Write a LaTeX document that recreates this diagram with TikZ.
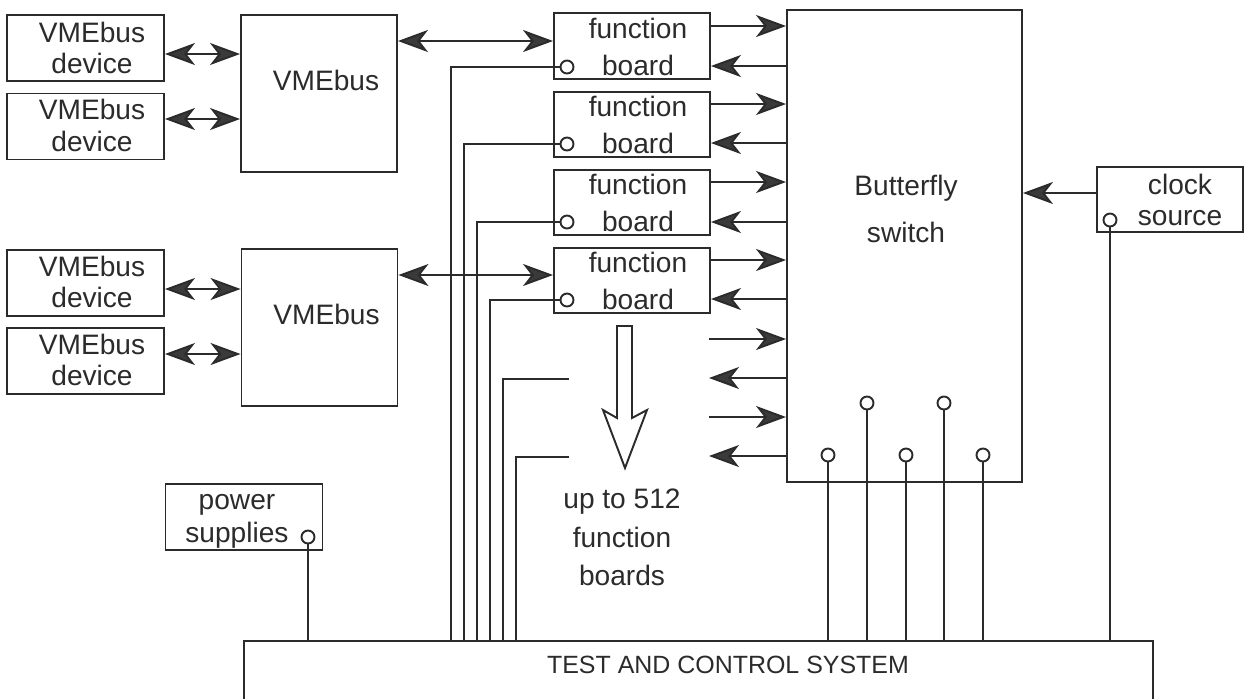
\documentclass[tikz,border=0pt]{standalone}
\usepackage{fontspec}
\setmainfont{Liberation Sans}
\usetikzlibrary{arrows.meta}
\definecolor{ink}{HTML}{2B2B2B}
\definecolor{headfill}{HTML}{3A3A3A}
\tikzset{
  box/.style={draw=ink, line width=1.1pt, rectangle, inner sep=0pt},
  txt/.style={text=ink, align=center, inner sep=0pt},
  port/.style={draw=ink, line width=1.1pt, circle, inner sep=0pt, minimum size=0.26cm},
  wire/.style={draw=ink, line width=1.1pt},
  head/.tip={Stealth[length=0.6cm, width=0.44cm, inset=0.17cm, fill=headfill]},
  arr/.style={wire, -head},
  darr/.style={wire, head-head},
  devbox/.style={box, minimum width=3.14cm, minimum height=1.32cm},
  fbbox/.style={box, minimum width=3.12cm, minimum height=1.31cm},
  busbox/.style={box, minimum width=3.12cm, minimum height=3.14cm},
}
\begin{document}
\begin{tikzpicture}[x=0.02cm,y=-0.02cm]
\useasboundingbox (0,0) rectangle (1249,698);
\clip (0,0) rectangle (1249,698);

% ---- boxes
\node[devbox] (dev1) at (85.5,48) {};
\node[devbox] (dev2) at (85.5,126.5) {};
\node[devbox] (dev3) at (85.5,283) {};
\node[devbox] (dev4) at (85.5,361) {};
\node[busbox] (vme1) at (319,93.5) {};
\node[busbox] (vme2) at (319.5,327.5) {};
\node[fbbox] (fb1) at (632,46) {};
\node[fbbox] (fb2) at (632,124.5) {};
\node[fbbox] (fb3) at (632,202.5) {};
\node[fbbox] (fb4) at (632,280.5) {};
\node[box, minimum width=4.7cm, minimum height=9.44cm] (sw) at (904.5,246) {};
\node[box, minimum width=2.92cm, minimum height=1.3cm] (clk) at (1170,199.5) {};
\node[devbox] (pwr) at (244,517) {};
\node[box, anchor=north west, minimum width=18.18cm, minimum height=2cm] (tcs) at (243,640) {};

% ---- texts
\tikzset{devtxt/.style={txt, font=\fontsize{16}{17.9}\selectfont},
         fbtxt/.style={txt, font=\fontsize{16}{21}\selectfont}}
\node[devtxt] (dev1t) at (92,48) {VMEbus\\device};
\node[devtxt] (dev2t) at (92,125.5) {VMEbus\\device};
\node[devtxt] (dev3t) at (92,282) {VMEbus\\device};
\node[devtxt] (dev4t) at (92,360) {VMEbus\\device};
\node[txt, font=\fontsize{16}{19}\selectfont] (vme1t) at (326,80) {VMEbus};
\node[txt, font=\fontsize{16}{19}\selectfont] (vme2t) at (326.5,314.5) {VMEbus};
\node[fbtxt] (fb1t) at (638,46.5) {function\\board};
\node[fbtxt] (fb2t) at (638,125) {function\\board};
\node[fbtxt] (fb3t) at (638,203) {function\\board};
\node[fbtxt] (fb4t) at (638,281) {function\\board};
\node[txt, font=\fontsize{16}{27.2}\selectfont] (swt) at (906,209) {Butterfly\\switch};
\node[txt, font=\fontsize{16}{18.1}\selectfont] (clkt) at (1180,200) {clock\\source};
\node[txt, font=\fontsize{16}{18.7}\selectfont] (pwrt) at (237,521) {power\\supplies};
\node[txt, font=\fontsize{16}{21.8}\selectfont] (upt) at (622,537.5) {up to 512\\function\\boards};
\node[txt, font=\fontsize{14.2}{17}\selectfont] (tcst) at (728,665) {TEST AND CONTROL SYSTEM};

% ---- bus arrows
\draw[darr] (dev1.east |- 0,54) -- (vme1.west |- 0,54);
\draw[darr] (dev2.east |- 0,119) -- (vme1.west |- 0,119);
\draw[darr] (dev3.east |- 0,289) -- (vme2.west |- 0,289);
\draw[darr] (dev4.east |- 0,354) -- (vme2.west |- 0,354);
\draw[darr] (vme1.east |- 0,41) -- (fb1.west |- 0,41);
\draw[darr] (vme2.east |- 0,275) -- (fb4.west |- 0,275);

% ---- function boards <-> switch
\draw[arr] (fb1.east |- 0,26) -- (sw.west |- 0,26);
\draw[arr] (sw.west |- 0,66) -- (fb1.east |- 0,66);
\draw[arr] (fb2.east |- 0,104) -- (sw.west |- 0,104);
\draw[arr] (sw.west |- 0,143) -- (fb2.east |- 0,143);
\draw[arr] (fb3.east |- 0,182) -- (sw.west |- 0,182);
\draw[arr] (sw.west |- 0,222) -- (fb3.east |- 0,222);
\draw[arr] (fb4.east |- 0,260) -- (sw.west |- 0,260);
\draw[arr] (sw.west |- 0,299) -- (fb4.east |- 0,299);
\coordinate (x1) at (709,339);
\coordinate (x2) at (709,378);
\coordinate (x3) at (709,417);
\coordinate (x4) at (709,456);
\draw[arr] (x1) -- (sw.west |- x1);
\draw[arr] (sw.west |- x2) -- (x2);
\draw[arr] (x3) -- (sw.west |- x3);
\draw[arr] (sw.west |- x4) -- (x4);

% ---- clock
\draw[arr] (clk.west |- 0,193) -- (sw.east |- 0,193);

% ---- ports and control wires
\node[port] (pf1) at (567,67) {};
\node[port] (pf2) at (567,144) {};
\node[port] (pf3) at (567,222) {};
\node[port] (pf4) at (567,300) {};
\coordinate (t1) at (451,640);
\coordinate (t2) at (464,640);
\coordinate (t3) at (477,640);
\coordinate (t4) at (490,640);
\coordinate (t5) at (503,640);
\coordinate (t6) at (516,640);
\draw[wire] (pf1.west) -| (t1);
\draw[wire] (pf2.west) -| (t2);
\draw[wire] (pf3.west) -| (t3);
\draw[wire] (pf4.west) -| (t4);
\coordinate (e1) at (569,379);
\coordinate (e2) at (569,457);
\draw[wire] (e1) -| (t5);
\draw[wire] (e2) -| (t6);

\node[port] (ps1) at (828,455) {};
\node[port] (ps2) at (867,403) {};
\node[port] (ps3) at (906,455) {};
\node[port] (ps4) at (944,403) {};
\node[port] (ps5) at (983,455) {};
\foreach \p in {ps1,ps2,ps3,ps4,ps5}
  \draw[wire] (\p.south) -- (\p.south |- tcs.north);

\node[port] (pp) at (308,537) {};
\draw[wire] (pp.south) -- (pp.south |- tcs.north);
\node[port] (pc) at (1110,220) {};
\draw[wire] (pc.south) -- (pc.south |- tcs.north);

% ---- hollow arrow
\draw[wire, line join=miter] (617,326) -- (632,326) -- (632,418) -- (647,410)
  -- (625,468) -- (603,410) -- (617,418) -- cycle;
\end{tikzpicture}
\end{document}
